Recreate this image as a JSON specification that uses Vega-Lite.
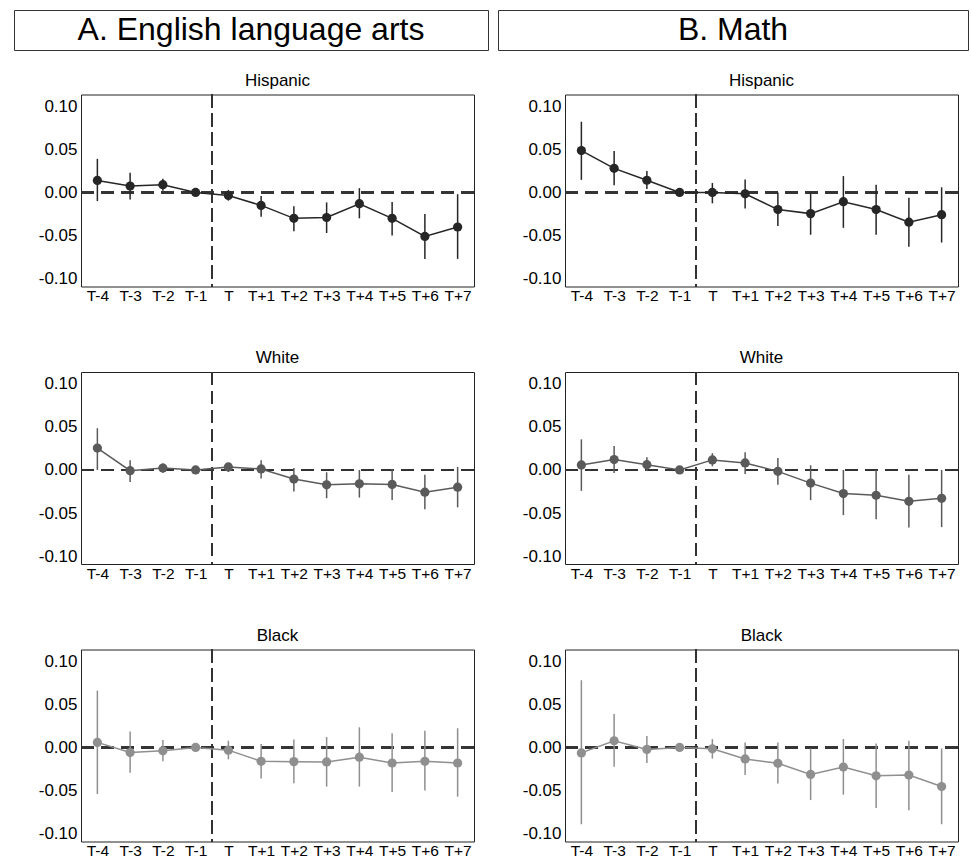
{
  "$schema": "https://vega.github.io/schema/vega-lite/v6.json",
  "background": "white",
  "padding": {"left": 13, "top": 9, "right": 0, "bottom": 0},
  "data": {"values": [
    {"subject": "ELA", "group": "Hispanic", "t": -4, "est": 0.014, "lo": -0.010, "hi": 0.039},
    {"subject": "ELA", "group": "Hispanic", "t": -3, "est": 0.0075, "lo": -0.008, "hi": 0.023},
    {"subject": "ELA", "group": "Hispanic", "t": -2, "est": 0.009, "lo": 0.002, "hi": 0.016},
    {"subject": "ELA", "group": "Hispanic", "t": -1, "est": 0, "lo": 0, "hi": 0},
    {"subject": "ELA", "group": "Hispanic", "t": 0, "est": -0.0035, "lo": -0.0095, "hi": 0.003},
    {"subject": "ELA", "group": "Hispanic", "t": 1, "est": -0.015, "lo": -0.028, "hi": -0.004},
    {"subject": "ELA", "group": "Hispanic", "t": 2, "est": -0.030, "lo": -0.045, "hi": -0.016},
    {"subject": "ELA", "group": "Hispanic", "t": 3, "est": -0.029, "lo": -0.047, "hi": -0.0115},
    {"subject": "ELA", "group": "Hispanic", "t": 4, "est": -0.013, "lo": -0.030, "hi": 0.005},
    {"subject": "ELA", "group": "Hispanic", "t": 5, "est": -0.030, "lo": -0.050, "hi": -0.011},
    {"subject": "ELA", "group": "Hispanic", "t": 6, "est": -0.051, "lo": -0.077, "hi": -0.025},
    {"subject": "ELA", "group": "Hispanic", "t": 7, "est": -0.040, "lo": -0.077, "hi": -0.002},
    {"subject": "Math", "group": "Hispanic", "t": -4, "est": 0.0486, "lo": 0.0146, "hi": 0.082},
    {"subject": "Math", "group": "Hispanic", "t": -3, "est": 0.028, "lo": 0.0083, "hi": 0.048},
    {"subject": "Math", "group": "Hispanic", "t": -2, "est": 0.0142, "lo": 0.004, "hi": 0.025},
    {"subject": "Math", "group": "Hispanic", "t": -1, "est": 0, "lo": 0, "hi": 0},
    {"subject": "Math", "group": "Hispanic", "t": 0, "est": 0, "lo": -0.0126, "hi": 0.011},
    {"subject": "Math", "group": "Hispanic", "t": 1, "est": -0.0016, "lo": -0.0186, "hi": 0.015},
    {"subject": "Math", "group": "Hispanic", "t": 2, "est": -0.0198, "lo": -0.039, "hi": 0},
    {"subject": "Math", "group": "Hispanic", "t": 3, "est": -0.0245, "lo": -0.049, "hi": 0},
    {"subject": "Math", "group": "Hispanic", "t": 4, "est": -0.0107, "lo": -0.041, "hi": 0.019},
    {"subject": "Math", "group": "Hispanic", "t": 5, "est": -0.0198, "lo": -0.049, "hi": 0.009},
    {"subject": "Math", "group": "Hispanic", "t": 6, "est": -0.0344, "lo": -0.063, "hi": -0.006},
    {"subject": "Math", "group": "Hispanic", "t": 7, "est": -0.0257, "lo": -0.058, "hi": 0.006},
    {"subject": "ELA", "group": "White", "t": -4, "est": 0.0254, "lo": 0, "hi": 0.0484},
    {"subject": "ELA", "group": "White", "t": -3, "est": -0.0008, "lo": -0.014, "hi": 0.0113},
    {"subject": "ELA", "group": "White", "t": -2, "est": 0.0023, "lo": -0.0035, "hi": 0.0078},
    {"subject": "ELA", "group": "White", "t": -1, "est": 0, "lo": 0, "hi": 0},
    {"subject": "ELA", "group": "White", "t": 0, "est": 0.0035, "lo": -0.0023, "hi": 0.0078},
    {"subject": "ELA", "group": "White", "t": 1, "est": 0.0012, "lo": -0.010, "hi": 0.0113},
    {"subject": "ELA", "group": "White", "t": 2, "est": -0.0105, "lo": -0.025, "hi": 0.0023},
    {"subject": "ELA", "group": "White", "t": 3, "est": -0.0172, "lo": -0.0328, "hi": -0.0027},
    {"subject": "ELA", "group": "White", "t": 4, "est": -0.016, "lo": -0.032, "hi": 0},
    {"subject": "ELA", "group": "White", "t": 5, "est": -0.0168, "lo": -0.0347, "hi": 0.0012},
    {"subject": "ELA", "group": "White", "t": 6, "est": -0.0257, "lo": -0.0456, "hi": -0.0055},
    {"subject": "ELA", "group": "White", "t": 7, "est": -0.020, "lo": -0.0433, "hi": 0.0035},
    {"subject": "Math", "group": "White", "t": -4, "est": 0.0059, "lo": -0.0242, "hi": 0.0355},
    {"subject": "Math", "group": "White", "t": -3, "est": 0.0121, "lo": -0.0035, "hi": 0.0277},
    {"subject": "Math", "group": "White", "t": -2, "est": 0.0062, "lo": -0.0008, "hi": 0.0148},
    {"subject": "Math", "group": "White", "t": -1, "est": 0, "lo": 0, "hi": 0},
    {"subject": "Math", "group": "White", "t": 0, "est": 0.0117, "lo": 0.0043, "hi": 0.0195},
    {"subject": "Math", "group": "White", "t": 1, "est": 0.0082, "lo": -0.0047, "hi": 0.0207},
    {"subject": "Math", "group": "White", "t": 2, "est": -0.0016, "lo": -0.0172, "hi": 0.014},
    {"subject": "Math", "group": "White", "t": 3, "est": -0.0152, "lo": -0.035, "hi": 0.0055},
    {"subject": "Math", "group": "White", "t": 4, "est": -0.0273, "lo": -0.0523, "hi": 0},
    {"subject": "Math", "group": "White", "t": 5, "est": -0.0293, "lo": -0.057, "hi": 0},
    {"subject": "Math", "group": "White", "t": 6, "est": -0.0363, "lo": -0.0667, "hi": -0.0055},
    {"subject": "Math", "group": "White", "t": 7, "est": -0.0328, "lo": -0.0663, "hi": 0},
    {"subject": "ELA", "group": "Black", "t": -4, "est": 0.0059, "lo": -0.0539, "hi": 0.066},
    {"subject": "ELA", "group": "Black", "t": -3, "est": -0.0059, "lo": -0.0293, "hi": 0.0184},
    {"subject": "ELA", "group": "Black", "t": -2, "est": -0.0039, "lo": -0.016, "hi": 0.0086},
    {"subject": "ELA", "group": "Black", "t": -1, "est": 0, "lo": 0, "hi": 0},
    {"subject": "ELA", "group": "Black", "t": 0, "est": -0.0031, "lo": -0.0137, "hi": 0.0078},
    {"subject": "ELA", "group": "Black", "t": 1, "est": -0.016, "lo": -0.0359, "hi": 0.0039},
    {"subject": "ELA", "group": "Black", "t": 2, "est": -0.0164, "lo": -0.0414, "hi": 0.0094},
    {"subject": "ELA", "group": "Black", "t": 3, "est": -0.0168, "lo": -0.0453, "hi": 0.0121},
    {"subject": "ELA", "group": "Black", "t": 4, "est": -0.0113, "lo": -0.0453, "hi": 0.0234},
    {"subject": "ELA", "group": "Black", "t": 5, "est": -0.018, "lo": -0.0516, "hi": 0.0164},
    {"subject": "ELA", "group": "Black", "t": 6, "est": -0.016, "lo": -0.050, "hi": 0.0195},
    {"subject": "ELA", "group": "Black", "t": 7, "est": -0.018, "lo": -0.057, "hi": 0.0223},
    {"subject": "Math", "group": "Black", "t": -4, "est": -0.0063, "lo": -0.089, "hi": 0.078},
    {"subject": "Math", "group": "Black", "t": -3, "est": 0.0078, "lo": -0.0223, "hi": 0.0387},
    {"subject": "Math", "group": "Black", "t": -2, "est": -0.0023, "lo": -0.018, "hi": 0.0133},
    {"subject": "Math", "group": "Black", "t": -1, "est": 0, "lo": 0, "hi": 0},
    {"subject": "Math", "group": "Black", "t": 0, "est": -0.0016, "lo": -0.0129, "hi": 0.0098},
    {"subject": "Math", "group": "Black", "t": 1, "est": -0.0133, "lo": -0.032, "hi": 0.0059},
    {"subject": "Math", "group": "Black", "t": 2, "est": -0.0184, "lo": -0.0418, "hi": 0.0059},
    {"subject": "Math", "group": "Black", "t": 3, "est": -0.0313, "lo": -0.061, "hi": -0.0012},
    {"subject": "Math", "group": "Black", "t": 4, "est": -0.0227, "lo": -0.0547, "hi": 0.0098},
    {"subject": "Math", "group": "Black", "t": 5, "est": -0.0328, "lo": -0.0703, "hi": 0.0047},
    {"subject": "Math", "group": "Black", "t": 6, "est": -0.032, "lo": -0.0727, "hi": 0.0078},
    {"subject": "Math", "group": "Black", "t": 7, "est": -0.0453, "lo": -0.089, "hi": -0.0012}
  ]},
  "spacing": 19.5,
  "vconcat": [
    {"spacing": 8, "hconcat": [
      {"width": 474, "height": 40, "data": {"values": [{"h": "A. English language arts"}]}, "view": {"stroke": "#333"},
       "mark": {"type": "text", "fontSize": 32, "font": "Liberation Sans", "baseline": "middle", "align": "center", "color": "#000"},
       "encoding": {"text": {"field": "h"}}},
      {"width": 470, "height": 40, "data": {"values": [{"h": "B. Math"}]}, "view": {"stroke": "#333"},
       "mark": {"type": "text", "fontSize": 32, "font": "Liberation Sans", "baseline": "middle", "align": "center", "color": "#000"},
       "encoding": {"text": {"field": "h"}}}
    ]},
    {"spacing": 0, "hconcat": [
      {"width": 23, "height": 10, "data": {"values": []}, "mark": "point", "view": {"stroke": null, "fill": "white"}},
      {"spacing": 45, "hconcat": [
        {"spacing": 43.5, "vconcat": [
          {"title": "Hispanic", "width": 393, "height": 192, "transform": [{"filter": "datum.subject === 'ELA' && datum.group === 'Hispanic'"}],
           "layer": [
            {"mark": {"type": "rule", "strokeDash": [13, 6], "color": "#333", "strokeWidth": 1.3}, "encoding": {"x": {"datum": -0.5, "type": "quantitative", "title": null, "scale": {"domain": [-4.5, 7.5], "nice": false, "zero": false}, "axis": {"values": [-4, -3, -2, -1, 0, 1, 2, 3, 4, 5, 6, 7]}}}},
            {"mark": {"type": "rule", "strokeDash": [13, 7], "color": "#333", "strokeWidth": 1.3}, "encoding": {"y": {"datum": 0, "type": "quantitative", "title": null, "scale": {"domain": [-0.109, 0.1136], "nice": false, "zero": false}, "axis": {"values": [-0.1, -0.05, 0, 0.05, 0.1]}}}},
            {"mark": {"type": "rule", "color": "#262626", "strokeWidth": 1.5}, "encoding": {"x": {"field": "t", "type": "quantitative", "title": null, "axis": {"values": [-4, -3, -2, -1, 0, 1, 2, 3, 4, 5, 6, 7]}}, "y": {"field": "lo", "type": "quantitative", "title": null, "axis": {"values": [-0.1, -0.05, 0, 0.05, 0.1]}}, "y2": {"field": "hi"}}},
            {"mark": {"type": "line", "color": "#262626", "strokeWidth": 1.5}, "encoding": {"x": {"field": "t", "type": "quantitative", "title": null, "axis": {"values": [-4, -3, -2, -1, 0, 1, 2, 3, 4, 5, 6, 7]}}, "y": {"field": "est", "type": "quantitative", "title": null, "axis": {"values": [-0.1, -0.05, 0, 0.05, 0.1]}}}},
            {"mark": {"type": "point", "filled": true, "opacity": 1, "size": 85, "color": "#262626"}, "encoding": {"x": {"field": "t", "type": "quantitative", "title": null, "axis": {"values": [-4, -3, -2, -1, 0, 1, 2, 3, 4, 5, 6, 7]}}, "y": {"field": "est", "type": "quantitative", "title": null, "axis": {"values": [-0.1, -0.05, 0, 0.05, 0.1]}}}}
           ]},
          {"title": "White", "width": 393, "height": 192, "transform": [{"filter": "datum.subject === 'ELA' && datum.group === 'White'"}],
           "layer": [
            {"mark": {"type": "rule", "strokeDash": [13, 6], "color": "#333", "strokeWidth": 1.3}, "encoding": {"x": {"datum": -0.5, "type": "quantitative", "title": null, "scale": {"domain": [-4.5, 7.5], "nice": false, "zero": false}, "axis": {"values": [-4, -3, -2, -1, 0, 1, 2, 3, 4, 5, 6, 7]}}}},
            {"mark": {"type": "rule", "strokeDash": [13, 7], "color": "#333", "strokeWidth": 1.3}, "encoding": {"y": {"datum": 0, "type": "quantitative", "title": null, "scale": {"domain": [-0.109, 0.1136], "nice": false, "zero": false}, "axis": {"values": [-0.1, -0.05, 0, 0.05, 0.1]}}}},
            {"mark": {"type": "rule", "color": "#5a5a5a", "strokeWidth": 1.5}, "encoding": {"x": {"field": "t", "type": "quantitative", "title": null, "axis": {"values": [-4, -3, -2, -1, 0, 1, 2, 3, 4, 5, 6, 7]}}, "y": {"field": "lo", "type": "quantitative", "title": null, "axis": {"values": [-0.1, -0.05, 0, 0.05, 0.1]}}, "y2": {"field": "hi"}}},
            {"mark": {"type": "line", "color": "#5a5a5a", "strokeWidth": 1.5}, "encoding": {"x": {"field": "t", "type": "quantitative", "title": null, "axis": {"values": [-4, -3, -2, -1, 0, 1, 2, 3, 4, 5, 6, 7]}}, "y": {"field": "est", "type": "quantitative", "title": null, "axis": {"values": [-0.1, -0.05, 0, 0.05, 0.1]}}}},
            {"mark": {"type": "point", "filled": true, "opacity": 1, "size": 85, "color": "#5a5a5a"}, "encoding": {"x": {"field": "t", "type": "quantitative", "title": null, "axis": {"values": [-4, -3, -2, -1, 0, 1, 2, 3, 4, 5, 6, 7]}}, "y": {"field": "est", "type": "quantitative", "title": null, "axis": {"values": [-0.1, -0.05, 0, 0.05, 0.1]}}}}
           ]},
          {"title": "Black", "width": 393, "height": 192, "transform": [{"filter": "datum.subject === 'ELA' && datum.group === 'Black'"}],
           "layer": [
            {"mark": {"type": "rule", "strokeDash": [13, 6], "color": "#333", "strokeWidth": 1.3}, "encoding": {"x": {"datum": -0.5, "type": "quantitative", "title": null, "scale": {"domain": [-4.5, 7.5], "nice": false, "zero": false}, "axis": {"values": [-4, -3, -2, -1, 0, 1, 2, 3, 4, 5, 6, 7]}}}},
            {"mark": {"type": "rule", "strokeDash": [13, 7], "color": "#333", "strokeWidth": 1.3}, "encoding": {"y": {"datum": 0, "type": "quantitative", "title": null, "scale": {"domain": [-0.109, 0.1136], "nice": false, "zero": false}, "axis": {"values": [-0.1, -0.05, 0, 0.05, 0.1]}}}},
            {"mark": {"type": "rule", "color": "#8f8f8f", "strokeWidth": 1.5}, "encoding": {"x": {"field": "t", "type": "quantitative", "title": null, "axis": {"values": [-4, -3, -2, -1, 0, 1, 2, 3, 4, 5, 6, 7]}}, "y": {"field": "lo", "type": "quantitative", "title": null, "axis": {"values": [-0.1, -0.05, 0, 0.05, 0.1]}}, "y2": {"field": "hi"}}},
            {"mark": {"type": "line", "color": "#8f8f8f", "strokeWidth": 1.5}, "encoding": {"x": {"field": "t", "type": "quantitative", "title": null, "axis": {"values": [-4, -3, -2, -1, 0, 1, 2, 3, 4, 5, 6, 7]}}, "y": {"field": "est", "type": "quantitative", "title": null, "axis": {"values": [-0.1, -0.05, 0, 0.05, 0.1]}}}},
            {"mark": {"type": "point", "filled": true, "opacity": 1, "size": 85, "color": "#8f8f8f"}, "encoding": {"x": {"field": "t", "type": "quantitative", "title": null, "axis": {"values": [-4, -3, -2, -1, 0, 1, 2, 3, 4, 5, 6, 7]}}, "y": {"field": "est", "type": "quantitative", "title": null, "axis": {"values": [-0.1, -0.05, 0, 0.05, 0.1]}}}}
           ]}
        ]},
        {"spacing": 43.5, "vconcat": [
          {"title": "Hispanic", "width": 393, "height": 192, "transform": [{"filter": "datum.subject === 'Math' && datum.group === 'Hispanic'"}],
           "layer": [
            {"mark": {"type": "rule", "strokeDash": [13, 6], "color": "#333", "strokeWidth": 1.3}, "encoding": {"x": {"datum": -0.5, "type": "quantitative", "title": null, "scale": {"domain": [-4.5, 7.5], "nice": false, "zero": false}, "axis": {"values": [-4, -3, -2, -1, 0, 1, 2, 3, 4, 5, 6, 7]}}}},
            {"mark": {"type": "rule", "strokeDash": [13, 7], "color": "#333", "strokeWidth": 1.3}, "encoding": {"y": {"datum": 0, "type": "quantitative", "title": null, "scale": {"domain": [-0.109, 0.1136], "nice": false, "zero": false}, "axis": {"values": [-0.1, -0.05, 0, 0.05, 0.1]}}}},
            {"mark": {"type": "rule", "color": "#262626", "strokeWidth": 1.5}, "encoding": {"x": {"field": "t", "type": "quantitative", "title": null, "axis": {"values": [-4, -3, -2, -1, 0, 1, 2, 3, 4, 5, 6, 7]}}, "y": {"field": "lo", "type": "quantitative", "title": null, "axis": {"values": [-0.1, -0.05, 0, 0.05, 0.1]}}, "y2": {"field": "hi"}}},
            {"mark": {"type": "line", "color": "#262626", "strokeWidth": 1.5}, "encoding": {"x": {"field": "t", "type": "quantitative", "title": null, "axis": {"values": [-4, -3, -2, -1, 0, 1, 2, 3, 4, 5, 6, 7]}}, "y": {"field": "est", "type": "quantitative", "title": null, "axis": {"values": [-0.1, -0.05, 0, 0.05, 0.1]}}}},
            {"mark": {"type": "point", "filled": true, "opacity": 1, "size": 85, "color": "#262626"}, "encoding": {"x": {"field": "t", "type": "quantitative", "title": null, "axis": {"values": [-4, -3, -2, -1, 0, 1, 2, 3, 4, 5, 6, 7]}}, "y": {"field": "est", "type": "quantitative", "title": null, "axis": {"values": [-0.1, -0.05, 0, 0.05, 0.1]}}}}
           ]},
          {"title": "White", "width": 393, "height": 192, "transform": [{"filter": "datum.subject === 'Math' && datum.group === 'White'"}],
           "layer": [
            {"mark": {"type": "rule", "strokeDash": [13, 6], "color": "#333", "strokeWidth": 1.3}, "encoding": {"x": {"datum": -0.5, "type": "quantitative", "title": null, "scale": {"domain": [-4.5, 7.5], "nice": false, "zero": false}, "axis": {"values": [-4, -3, -2, -1, 0, 1, 2, 3, 4, 5, 6, 7]}}}},
            {"mark": {"type": "rule", "strokeDash": [13, 7], "color": "#333", "strokeWidth": 1.3}, "encoding": {"y": {"datum": 0, "type": "quantitative", "title": null, "scale": {"domain": [-0.109, 0.1136], "nice": false, "zero": false}, "axis": {"values": [-0.1, -0.05, 0, 0.05, 0.1]}}}},
            {"mark": {"type": "rule", "color": "#5a5a5a", "strokeWidth": 1.5}, "encoding": {"x": {"field": "t", "type": "quantitative", "title": null, "axis": {"values": [-4, -3, -2, -1, 0, 1, 2, 3, 4, 5, 6, 7]}}, "y": {"field": "lo", "type": "quantitative", "title": null, "axis": {"values": [-0.1, -0.05, 0, 0.05, 0.1]}}, "y2": {"field": "hi"}}},
            {"mark": {"type": "line", "color": "#5a5a5a", "strokeWidth": 1.5}, "encoding": {"x": {"field": "t", "type": "quantitative", "title": null, "axis": {"values": [-4, -3, -2, -1, 0, 1, 2, 3, 4, 5, 6, 7]}}, "y": {"field": "est", "type": "quantitative", "title": null, "axis": {"values": [-0.1, -0.05, 0, 0.05, 0.1]}}}},
            {"mark": {"type": "point", "filled": true, "opacity": 1, "size": 85, "color": "#5a5a5a"}, "encoding": {"x": {"field": "t", "type": "quantitative", "title": null, "axis": {"values": [-4, -3, -2, -1, 0, 1, 2, 3, 4, 5, 6, 7]}}, "y": {"field": "est", "type": "quantitative", "title": null, "axis": {"values": [-0.1, -0.05, 0, 0.05, 0.1]}}}}
           ]},
          {"title": "Black", "width": 393, "height": 192, "transform": [{"filter": "datum.subject === 'Math' && datum.group === 'Black'"}],
           "layer": [
            {"mark": {"type": "rule", "strokeDash": [13, 6], "color": "#333", "strokeWidth": 1.3}, "encoding": {"x": {"datum": -0.5, "type": "quantitative", "title": null, "scale": {"domain": [-4.5, 7.5], "nice": false, "zero": false}, "axis": {"values": [-4, -3, -2, -1, 0, 1, 2, 3, 4, 5, 6, 7]}}}},
            {"mark": {"type": "rule", "strokeDash": [13, 7], "color": "#333", "strokeWidth": 1.3}, "encoding": {"y": {"datum": 0, "type": "quantitative", "title": null, "scale": {"domain": [-0.109, 0.1136], "nice": false, "zero": false}, "axis": {"values": [-0.1, -0.05, 0, 0.05, 0.1]}}}},
            {"mark": {"type": "rule", "color": "#8f8f8f", "strokeWidth": 1.5}, "encoding": {"x": {"field": "t", "type": "quantitative", "title": null, "axis": {"values": [-4, -3, -2, -1, 0, 1, 2, 3, 4, 5, 6, 7]}}, "y": {"field": "lo", "type": "quantitative", "title": null, "axis": {"values": [-0.1, -0.05, 0, 0.05, 0.1]}}, "y2": {"field": "hi"}}},
            {"mark": {"type": "line", "color": "#8f8f8f", "strokeWidth": 1.5}, "encoding": {"x": {"field": "t", "type": "quantitative", "title": null, "axis": {"values": [-4, -3, -2, -1, 0, 1, 2, 3, 4, 5, 6, 7]}}, "y": {"field": "est", "type": "quantitative", "title": null, "axis": {"values": [-0.1, -0.05, 0, 0.05, 0.1]}}}},
            {"mark": {"type": "point", "filled": true, "opacity": 1, "size": 85, "color": "#8f8f8f"}, "encoding": {"x": {"field": "t", "type": "quantitative", "title": null, "axis": {"values": [-4, -3, -2, -1, 0, 1, 2, 3, 4, 5, 6, 7]}}, "y": {"field": "est", "type": "quantitative", "title": null, "axis": {"values": [-0.1, -0.05, 0, 0.05, 0.1]}}}}
           ]}
        ]}
      ]}
    ]}
  ],
  "config": {
    "font": "Liberation Sans",
    "view": {"stroke": "#222", "strokeWidth": 1},
    "axis": {"ticks": false, "domain": false, "grid": false, "labelFontSize": 16, "labelColor": "#000", "labelFont": "Liberation Sans", "labelPadding": 4, "labelOverlap": false, "labelFlush": false, "labelBound": false, "title": null},
    "axisX": {"labelExpr": "datum.value == 0 ? 'T' : (datum.value < 0 ? 'T-' + (-datum.value) : 'T+' + datum.value)", "labelPadding": 2, "labelFontSize": 15.5, "tickCount": 12},
    "axisY": {"labelFontSize": 17, "labelExpr": "datum.value < 0 ? '-' + format(-datum.value, '.2f') : format(datum.value, '.2f')"},
    "title": {"fontSize": 17, "fontWeight": "normal", "color": "#000", "font": "Liberation Sans", "offset": 4, "baseline": "alphabetic"}
  }
}
